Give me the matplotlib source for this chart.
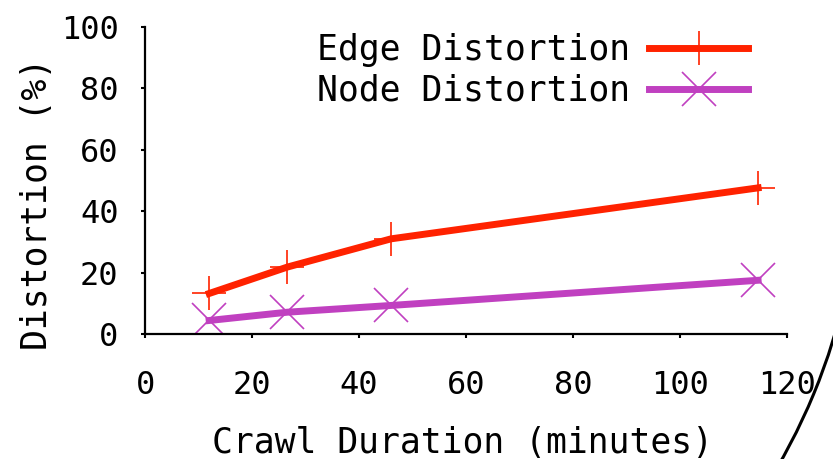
import matplotlib.pyplot as plt
import matplotlib.patches as patches
from matplotlib.transforms import IdentityTransform

# crawl duration (minutes) and distortion (%)
crawl_minutes = [12, 26.6, 46, 114.6]
edge_distortion = [13.2, 21.8, 31.0, 47.6]
node_distortion = [4.4, 7.1, 9.3, 17.5]

plt.rcParams['font.family'] = ['DejaVu Sans Mono']

fig = plt.figure(figsize=(8.33, 4.59), dpi=100)
ax = fig.add_axes([145 / 833, 1 - 334 / 459, 642 / 833, 307 / 459])

ax.plot(crawl_minutes, edge_distortion, color='#ff2200', linewidth=5,
        marker='+', markersize=24, markeredgewidth=1.2, label='Edge Distortion')
ax.plot(crawl_minutes, node_distortion, color='#c040c0', linewidth=5,
        marker='x', markersize=24, markeredgewidth=1.2, label='Node Distortion')

ax.set_xlim(0, 120)
ax.set_ylim(0, 100)
ax.set_xticks(range(0, 121, 20))
ax.set_yticks(range(0, 101, 20))
ax.tick_params(labelsize=23, direction='out', length=3, width=1.5)
ax.tick_params(axis='x', pad=23)
ax.tick_params(axis='y', pad=16)
for side in ['top', 'right']:
    ax.spines[side].set_visible(False)
for side in ['left', 'bottom']:
    ax.spines[side].set_linewidth(1.6)

fig.text(37 / 833, 1 - 204 / 459, 'Distortion (%)', rotation=90,
         ha='center', va='center', fontsize=25)
fig.text(462 / 833, 1 - 443 / 459, 'Crawl Duration (minutes)',
         ha='center', va='center', fontsize=25)

ax.legend(loc='upper right', bbox_to_anchor=(748 / 833, 1 - 33 / 459),
          bbox_transform=fig.transFigure, frameon=False, markerfirst=False,
          fontsize=25, handlelength=2.85, handletextpad=0.55,
          labelspacing=0.2, borderpad=0, borderaxespad=0)

# stray arc at the bottom right of the original image (display pixels, y up)
arc = patches.Arc((251, 298), 1218, 1218, theta1=-33, theta2=-12,
                  transform=IdentityTransform(), color='black', linewidth=2.2)
fig.add_artist(arc)

fig.savefig('out.png', dpi=100)
